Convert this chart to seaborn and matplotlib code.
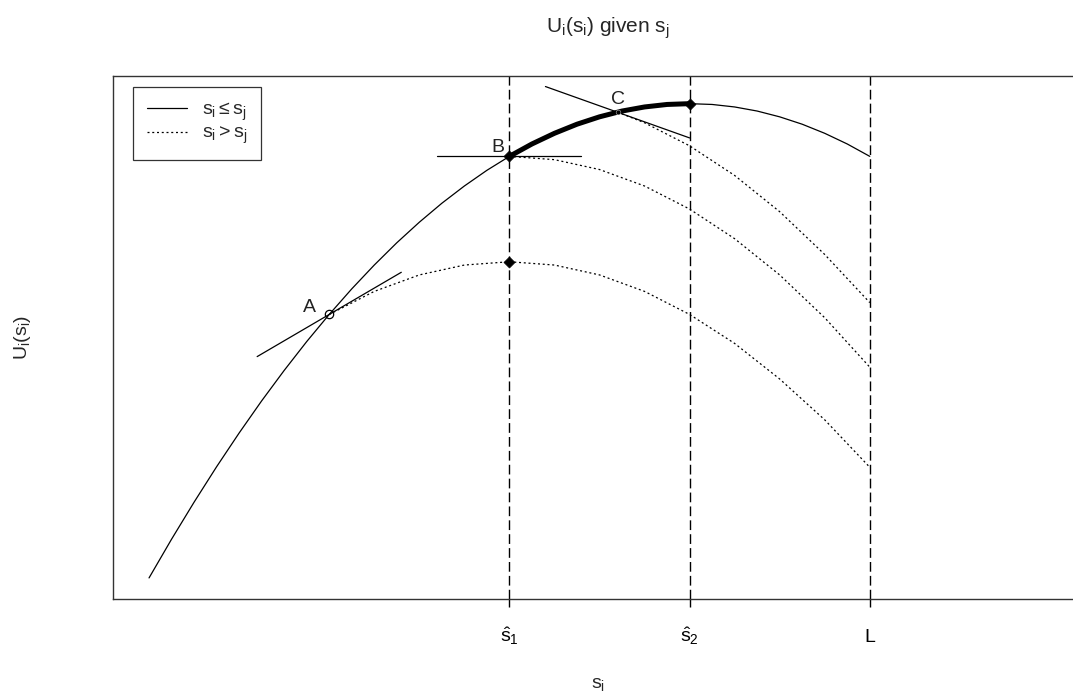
import matplotlib
matplotlib.use("Agg")
import matplotlib.pyplot as plt
import seaborn as sns
from matplotlib.lines import Line2D

# ---- data ----
s_solid = [0, 0.25, 0.5, 0.75, 1, 1.25, 1.5, 1.75, 2, 2.25, 2.5, 2.75, 3, 3.25, 3.5, 3.75,
           4, 4.25, 4.5, 4.75, 5, 5.25, 5.5, 5.75, 6, 6.25, 6.5, 6.75, 7, 7.25, 7.5, 7.75, 8]
u_solid = [0, 2.94, 5.75, 8.44, 11, 13.44, 15.75, 17.94, 20, 21.94, 23.75, 25.44, 27, 28.44,
           29.75, 30.94, 32, 32.94, 33.75, 34.44, 35, 35.44, 35.75, 35.94, 36, 35.94, 35.75,
           35.44, 35, 34.44, 33.75, 32.94, 32]

s_thick = [4, 4.25, 4.5, 4.75, 5, 5.25, 5.5, 5.75, 6]
u_thick = [32, 32.94, 33.75, 34.44, 35, 35.44, 35.75, 35.94, 36]

s_dotA = [2, 2.5, 3, 3.5, 4, 4.5, 5, 5.5, 6, 6.5, 7, 7.5, 8]
u_dotA = [20, 21.75, 23, 23.75, 24, 23.75, 23, 21.75, 20, 17.8, 15.1, 12, 8.4]

s_dotB = [4, 4.5, 5, 5.5, 6, 6.5, 7, 7.5, 8]
u_dotB = [32, 31.75, 31, 29.75, 28, 25.75, 23, 19.75, 16]

s_dotC = [5.2, 5.5, 6, 6.5, 7, 7.5, 8]
u_dotC = [35.36, 34.55, 32.8, 30.55, 27.8, 24.55, 20.9]

tanA_s = [1.2, 2.8]
tanA_u = [16.8, 23.2]
tanB_s = [3.2, 4.8]
tanB_u = [32, 32]
tanC_s = [4.4, 6.0]
tanC_u = [37.3, 33.4]

vlines = [4, 6, 8]
tick_labels = [r"$\hat{s}_1$", r"$\hat{s}_2$", "L"]

filled_s = [4, 4, 6]
filled_u = [32, 24, 36]
point_C = (5.2, 35.36)
point_A = (2, 20)

point_labels = ["A", "B", "C"]
label_pos = [(1.78, 20.5), (3.87, 32.7), (5.2, 36.3)]

legend_labels = [r"$\mathregular{s_i \leq s_j}$", r"$\mathregular{s_i > s_j}$"]

# ---- style ----
sns.set_style("white")
plt.rcParams["font.family"] = ["Liberation Sans", "DejaVu Sans"]
plt.rcParams["mathtext.fontset"] = "custom"
plt.rcParams["mathtext.rm"] = "Liberation Sans"
plt.rcParams["mathtext.it"] = "Liberation Sans"
plt.rcParams["mathtext.bf"] = "Liberation Sans:bold"

W, H = 1073, 694
fig = plt.figure(figsize=(W / 100, H / 100), dpi=100)
ax = fig.add_axes([113 / W, (H - 599) / H, (1086 - 113) / W, (599 - 76) / H])

dotted = (0, (1.6, 2.2))
kw = dict(ax=ax, color="black", estimator=None, sort=False, legend=False)

sns.lineplot(x=s_solid, y=u_solid, linewidth=0.9, **kw)
sns.lineplot(x=s_thick, y=u_thick, linewidth=3.6, **kw)
for xs, ys in [(s_dotA, u_dotA), (s_dotB, u_dotB), (s_dotC, u_dotC)]:
    sns.lineplot(x=xs, y=ys, linewidth=0.9, linestyle=dotted, **kw)
for xs, ys in [(tanA_s, tanA_u), (tanB_s, tanB_u), (tanC_s, tanC_u)]:
    sns.lineplot(x=xs, y=ys, linewidth=0.9, **kw)

for v in vlines:
    ax.axvline(v, color="black", linewidth=1.0, linestyle=(0, (7, 3)))

sns.scatterplot(x=filled_s, y=filled_u, marker="D", s=32, color="black",
                edgecolor="black", ax=ax, legend=False, zorder=5)
sns.scatterplot(x=[point_C[0]], y=[point_C[1]], marker="o", s=12, color="black",
                ax=ax, legend=False, zorder=5)
ax.plot(point_A[0], point_A[1], marker="o", markersize=6, markerfacecolor="none",
        markeredgecolor="black", markeredgewidth=0.9, zorder=5)

for lab, (x, y) in zip(point_labels, label_pos):
    ax.text(x, y, lab, fontsize=14, ha="center", va="center", color="#222222")

ax.set_xlim(-0.4, 10.4)
ax.set_ylim(-1.6, 38.1)
ax.set_xticks(vlines)
ax.set_xticklabels(tick_labels, fontsize=14)
ax.set_yticks([])
ax.tick_params(axis="x", direction="out", length=6, width=1.0, pad=25, bottom=True, colors="black")
for lbl in ax.get_xticklabels():
    lbl.set_verticalalignment("baseline")
for sp in ax.spines.values():
    sp.set_color("#333333")
    sp.set_linewidth(1.0)

ax.set_xlabel(r"$\mathregular{s_i}$", fontsize=14)
ax.xaxis.set_label_coords((598 - 113) / 973, (599 - 676) / 523)
ax.set_ylabel(r"$\mathregular{U_i(s_i)}$", fontsize=14)
ax.yaxis.set_label_coords((33 - 113) / 973, 0.5)

ax.set_title(r"$\mathregular{U_i(s_i)}$ given $\mathregular{s_j}$", fontsize=15,
             x=(608 - 113) / 973, pad=31)

handles = [Line2D([], [], color="black", linewidth=0.9),
           Line2D([], [], color="black", linewidth=0.9, linestyle=dotted)]
leg = ax.legend(handles, legend_labels, loc="upper left",
                bbox_to_anchor=((133 - 113) / 973, (599 - 87) / 523),
                borderaxespad=0, frameon=True, fancybox=False, fontsize=14,
                handlelength=2.1, handletextpad=0.75, borderpad=0.7,
                labelspacing=0.1)
leg.get_frame().set_edgecolor("black")
leg.get_frame().set_linewidth(0.9)

fig.savefig("out.png", dpi=100)
